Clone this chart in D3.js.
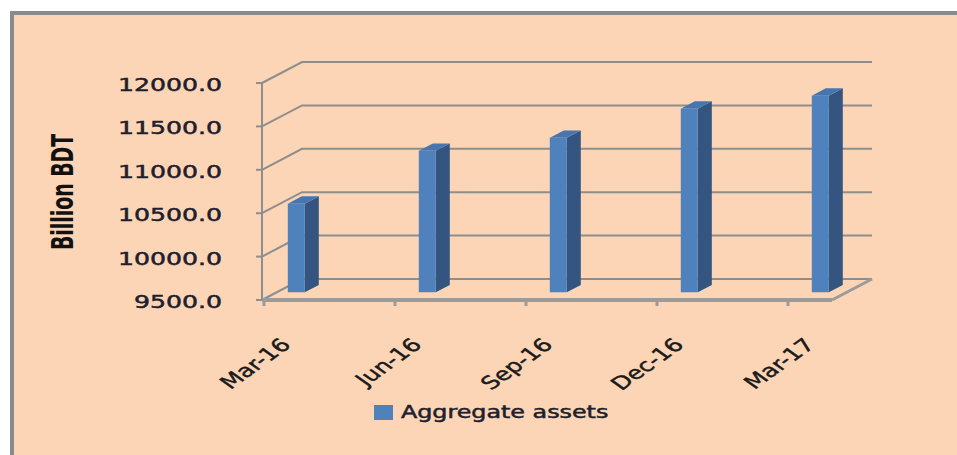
<!DOCTYPE html>
<html>
<head>
<meta charset="utf-8">
<script src="https://cdn.jsdelivr.net/npm/d3@7"></script>
<style>
  html, body { margin: 0; padding: 0; background: #fff; overflow: hidden; }
  svg { display: block; }
</style>
</head>
<body>
<svg id="svg" width="957" height="455"></svg>
<script>
// data
const categories = ["Mar-16", "Jun-16", "Sep-16", "Dec-16", "Mar-17"];
const assets = [10520, 11130, 11280, 11615, 11765];
const yTicks = [9500, 10000, 10500, 11000, 11500, 12000];
const seriesName = "Aggregate assets";

// layout
const W = 957, H = 455;
const SX = 1.4;             // the picture is stretched sideways, text too
const depthX = 40, depthY = -21; // full depth of the 3d box
const floorLeft = 262, floorRight = 832;
const barFront = 0.37, barBack = 0.72, barW = 17;

const y = d3.scaleLinear().domain([9500, 12000]).range([300, 83]);
const x = d3.scaleBand().domain(categories).range([264, 264 + 131 * categories.length]);

// point in the 3d box: front x, value, depth 0..1
function proj(fx, v, d) { return [fx + d * depthX, y(v) + d * depthY]; }

const svg = d3.select("#svg");

// chart area
svg.append("rect")
  .attr("x", 12).attr("y", 13)
  .attr("width", W + 100).attr("height", H + 100)
  .attr("fill", "#fbd5b5")
  .attr("stroke", "#8a8a8a")
  .attr("stroke-width", 4);

const grid = svg.append("g").attr("stroke", "#8e8e8e").attr("fill", "none");

// side wall + back wall gridlines
yTicks.forEach(t => {
  const a = proj(floorLeft, t, 0), b = proj(floorLeft, t, 1), c = proj(floorRight, t, 1);
  grid.append("path")
    .attr("d", d3.line()([a, b, c]))
    .attr("stroke-width", 2);
});

// floor
const f0 = proj(floorLeft, 9500, 0), f1 = proj(floorRight, 9500, 0), f2 = proj(floorRight, 9500, 1);
grid.append("path").attr("d", d3.line()([f1, f2])).attr("stroke-width", 3).attr("stroke", "#9b9b9b");
grid.append("path").attr("d", d3.line()([f0, f1])).attr("stroke-width", 4).attr("stroke", "#9b9b9b");

// value axis
grid.append("path")
  .attr("d", d3.line()([proj(floorLeft, 12000, 0), proj(floorLeft, 9500, 0)]))
  .attr("stroke-width", 2);
yTicks.forEach(t => {
  grid.append("path")
    .attr("d", d3.line()([[floorLeft - 6, y(t)], [floorLeft, y(t)]]))
    .attr("stroke-width", 2);
});

// category ticks
categories.forEach(c => {
  grid.append("path")
    .attr("d", d3.line()([[x(c), 300], [x(c), 306]]))
    .attr("stroke-width", 3).attr("stroke", "#9b9b9b");
});

// bars
const bars = svg.append("g");
categories.forEach((c, i) => {
  const v = assets[i];
  const l = x(c) + 9, r = l + barW;
  const fl0 = proj(l, 9500, barFront), fr0 = proj(r, 9500, barFront);
  const fl1 = proj(l, v, barFront), fr1 = proj(r, v, barFront);
  const br0 = proj(r, 9500, barBack), br1 = proj(r, v, barBack), bl1 = proj(l, v, barBack);
  bars.append("path").attr("d", d3.line()([fr0, fr1, br1, br0]) + "Z").attr("fill", "#34557f");
  bars.append("path").attr("d", d3.line()([fl1, fr1, br1, bl1]) + "Z").attr("fill", "#4676b0");
  bars.append("path").attr("d", d3.line()([fl0, fl1, fr1, fr0]) + "Z").attr("fill", "#4f81bd");
});

// value labels
svg.append("g").selectAll("text")
  .data(yTicks)
  .join("text")
  .attr("transform", d => `translate(222,${y(d) + 8}) scale(${SX},1)`)
  .attr("text-anchor", "end")
  .attr("font-family", "DejaVu Sans, Verdana, sans-serif")
  .attr("font-size", 18)
  .attr("fill", "#1e1e2e")
  .attr("stroke", "#1e1e2e")
  .attr("stroke-width", 0.5)
  .text(d3.format(".1f"));

// category labels
svg.append("g").selectAll("text")
  .data(categories)
  .join("text")
  .attr("transform", d => `translate(${x(d) + 28},346) scale(${SX},1) rotate(-45)`)
  .attr("text-anchor", "end")
  .attr("font-family", "DejaVu Sans, Verdana, sans-serif")
  .attr("font-size", 18)
  .attr("fill", "#1a1a1a")
  .attr("stroke", "#1a1a1a")
  .attr("stroke-width", 0.4)
  .text(d => d);

// axis title
svg.append("text")
  .attr("transform", `translate(73,192) scale(${SX},1) rotate(-90)`)
  .attr("text-anchor", "middle")
  .attr("font-family", "Liberation Sans Narrow, DejaVu Sans Condensed, sans-serif")
  .attr("font-weight", "bold")
  .attr("font-size", 21)
  .attr("fill", "#111")
  .text("Billion BDT");

// legend
const lg = svg.append("g");
lg.append("rect").attr("x", 374).attr("y", 405).attr("width", 19).attr("height", 15).attr("fill", "#4f81bd");
lg.append("text")
  .attr("transform", `translate(401,418) scale(${SX},1)`)
  .attr("font-family", "DejaVu Sans, Verdana, sans-serif")
  .attr("font-size", 17)
  .attr("fill", "#1e1e2e")
  .attr("stroke", "#1e1e2e")
  .attr("stroke-width", 0.5)
  .text(seriesName);
</script>
</body>
</html>
